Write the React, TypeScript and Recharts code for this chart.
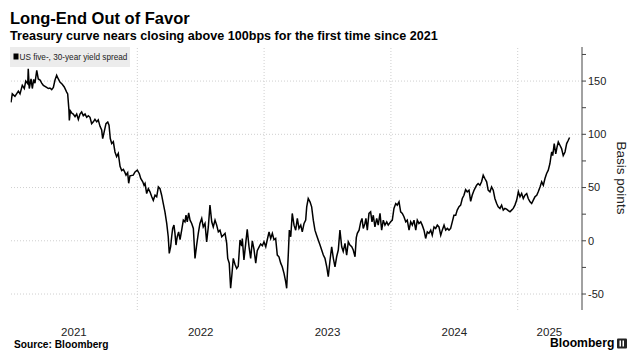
import React from 'react';
import { LineChart, Line, XAxis, YAxis, ReferenceLine } from 'recharts';

// Decimal-year dates of the sampled observations
const dateYears = [
  2021.004, 2021.014, 2021.035, 2021.062, 2021.075, 2021.093, 2021.109, 2021.12, 2021.136, 2021.14,
  2021.148, 2021.162, 2021.172, 2021.183, 2021.193, 2021.207, 2021.219, 2021.233, 2021.246, 2021.259,
  2021.272, 2021.285, 2021.298, 2021.311, 2021.325, 2021.338, 2021.351, 2021.364, 2021.377, 2021.39,
  2021.408, 2021.424, 2021.443, 2021.451, 2021.461, 2021.464, 2021.472, 2021.483, 2021.495, 2021.509,
  2021.522, 2021.535, 2021.548, 2021.561, 2021.574, 2021.588, 2021.601, 2021.614, 2021.627, 2021.64,
  2021.653, 2021.666, 2021.68, 2021.692, 2021.706, 2021.719, 2021.727, 2021.74, 2021.753, 2021.767,
  2021.777, 2021.787, 2021.798, 2021.811, 2021.824, 2021.837, 2021.85, 2021.864, 2021.877, 2021.89,
  2021.903, 2021.911, 2021.924, 2021.932, 2021.942, 2021.968, 2021.982, 2022.0, 2022.016, 2022.027,
  2022.043, 2022.053, 2022.061, 2022.074, 2022.087, 2022.1, 2022.114, 2022.126, 2022.14, 2022.153,
  2022.166, 2022.179, 2022.192, 2022.205, 2022.218, 2022.232, 2022.244, 2022.252, 2022.263, 2022.271,
  2022.279, 2022.289, 2022.297, 2022.305, 2022.315, 2022.326, 2022.337, 2022.35, 2022.363, 2022.376,
  2022.384, 2022.394, 2022.405, 2022.416, 2022.429, 2022.442, 2022.455, 2022.468, 2022.481, 2022.494,
  2022.508, 2022.52, 2022.534, 2022.547, 2022.56, 2022.573, 2022.587, 2022.599, 2022.613, 2022.626,
  2022.639, 2022.652, 2022.666, 2022.678, 2022.692, 2022.705, 2022.713, 2022.725, 2022.736, 2022.747,
  2022.757, 2022.77, 2022.784, 2022.796, 2022.81, 2022.823, 2022.828, 2022.841, 2022.855, 2022.867,
  2022.881, 2022.894, 2022.907, 2022.92, 2022.934, 2022.946, 2022.96, 2022.973, 2022.986, 2022.999,
  2023.013, 2023.025, 2023.039, 2023.052, 2023.065, 2023.078, 2023.091, 2023.104, 2023.117, 2023.131,
  2023.143, 2023.157, 2023.17, 2023.178, 2023.191, 2023.199, 2023.21, 2023.222, 2023.236, 2023.249,
  2023.262, 2023.275, 2023.289, 2023.301, 2023.315, 2023.328, 2023.336, 2023.348, 2023.362, 2023.375,
  2023.388, 2023.401, 2023.414, 2023.427, 2023.441, 2023.454, 2023.467, 2023.48, 2023.494, 2023.506,
  2023.52, 2023.533, 2023.546, 2023.559, 2023.572, 2023.585, 2023.598, 2023.612, 2023.624, 2023.638,
  2023.651, 2023.664, 2023.677, 2023.691, 2023.703, 2023.717, 2023.727, 2023.735, 2023.749, 2023.762,
  2023.772, 2023.782, 2023.795, 2023.803, 2023.814, 2023.827, 2023.84, 2023.851, 2023.861, 2023.874,
  2023.888, 2023.9, 2023.914, 2023.927, 2023.94, 2023.953, 2023.967, 2023.979, 2023.998, 2024.011,
  2024.024, 2024.038, 2024.05, 2024.064, 2024.077, 2024.09, 2024.103, 2024.117, 2024.129, 2024.143,
  2024.156, 2024.169, 2024.182, 2024.196, 2024.208, 2024.221, 2024.235, 2024.247, 2024.261, 2024.274,
  2024.287, 2024.3, 2024.314, 2024.326, 2024.34, 2024.353, 2024.366, 2024.379, 2024.393, 2024.405,
  2024.419, 2024.432, 2024.445, 2024.458, 2024.471, 2024.484, 2024.497, 2024.511, 2024.523, 2024.537,
  2024.55, 2024.563, 2024.576, 2024.589, 2024.602, 2024.616, 2024.629, 2024.641, 2024.654, 2024.662,
  2024.676, 2024.688, 2024.702, 2024.715, 2024.728, 2024.741, 2024.755, 2024.767, 2024.781, 2024.794,
  2024.807, 2024.82, 2024.834, 2024.846, 2024.86, 2024.873, 2024.886, 2024.899, 2024.912, 2024.926,
  2024.939, 2024.952, 2024.965, 2024.978, 2024.992, 2025.005, 2025.018, 2025.031, 2025.044, 2025.057,
  2025.071, 2025.083, 2025.097, 2025.11, 2025.123, 2025.136, 2025.15, 2025.162, 2025.176, 2025.189,
  2025.202, 2025.215, 2025.228, 2025.241, 2025.254, 2025.262, 2025.268, 2025.276, 2025.288, 2025.3,
  2025.31, 2025.32, 2025.333, 2025.346, 2025.359, 2025.373, 2025.386, 2025.399, 2025.409,
];

// US 5s30s spread, basis points
const spreadBps = [
  130, 138, 135.6, 140.6, 138, 146, 143, 150, 147.5, 161.6,
  143, 152, 143, 151.5, 148, 160, 152, 151, 148, 146,
  145, 144, 143, 143.5, 142, 144, 151, 155.4, 152, 149,
  147, 144.5, 139.7, 138, 122.5, 113, 122, 120, 119, 116.6,
  119, 114, 119, 121, 117.5, 119, 116, 117.5, 116, 110,
  111.7, 114, 111.7, 113.6, 107.5, 104, 96, 103, 110, 111.6,
  108.5, 96, 91.3, 93, 83.4, 79, 82, 70, 66, 67,
  64, 61.6, 64, 54, 61, 61.6, 64.7, 66.3, 63, 58.5,
  55.4, 52.2, 53.8, 44.4, 49, 46, 41.3, 38, 42.8, 41.3,
  50.6, 49, 42.8, 35, 27.2, 16.3, 3.8, -11.8, -5.6, 3.8,
  11.6, 14.7, 7, -4, 3.8, 8.4, 1, 10, 19.4, 17.8,
  24, 17.8, 26.3, 19.4, 16.3, 11.6, -16.5, -4, 7, 16.3,
  21, 13, 16.3, -1, 13, 33.5, 17.8, 13, 19.4, 14.7,
  8.4, 10, 3.8, 5.3, 7, -2.5, -16.5, -21, -44.6, -30.5,
  -16.5, -22, -26, -24, 0.7, -5, 2.2, -18, -2.5, 10.7,
  -5.6, -16.5, 0, -7.8, -21, -9.3, -6, -3, -4.6, -1,
  -5.6, 1, 8.4, 2.2, 7, 1, 2.2, -13.4, -15, -21,
  -24.4, -30.6, -38.4, -44.6, -12, 10, 3.8, 25.7, 14.7, 10,
  21, 11.6, 14.7, 8.4, 16.3, 19.4, 31.9, 39.7, 36.6, 31.9,
  19.4, 10, 5.3, 0.7, -4, -8.7, -13.4, -16.5, -24.4, -33.7,
  -18, -5.6, -16.5, -24.4, -15, -8.7, 10, -5.6, -10, -2.5,
  -13.4, -1, -4, -5.6, -8.7, -15, 3, 7, 10, 17.8,
  21, 11.6, 16.3, 21, 10, 25.7, 27.2, 17.8, 24, 13,
  21, 14.7, 25.7, 10, 19.4, 14.7, 17.8, 14.7, 17.8, 19.4,
  30.4, 35, 33.5, 36.6, 27.2, 25.7, 22.6, 17.8, 19.4, 10,
  17.8, 14.7, 19.4, 10, 19.4, 16.3, 17.8, 14.7, 10, 2.2,
  8.4, 7, 10, 5.3, 13, 11.6, 14.7, 13, 5.3, 10,
  14.7, 10, 11.6, 10, 11.6, 17.8, 24, 24, 28.8, 32,
  33.5, 39.7, 42.8, 48, 46, 47.5, 37, 42.8, 47, 49,
  52.2, 53.8, 52.2, 55.4, 61.6, 58.5, 55.4, 47.5, 46, 50.6,
  47.5, 39.7, 35, 31.9, 30.4, 33.5, 28.8, 30.4, 29.7, 28.3,
  27.2, 28.8, 30.4, 33.5, 38.2, 46, 41.3, 44.4, 39.7, 42.8,
  44.4, 39.7, 36.6, 35, 38.2, 41.3, 42.8, 46, 50.6, 55.4,
  52.2, 58.5, 63.2, 66.3, 72.6, 79, 83.4, 80, 91.3, 81.6,
  88, 92.8, 89.7, 86.6, 80, 83.4, 91.3, 94.4, 97,
];

const yearLabelPositions = [2021.5, 2022.5, 2023.5, 2024.5, 2025.25];
const yearLabels = ['2021', '2022', '2023', '2024', '2025'];
const yearBoundaries = [2022, 2023, 2024, 2025];
const yTicks = [-50, -25, 0, 25, 50, 75, 100, 125, 150, 175];
const yGridValues = [-50, 0, 50, 100, 150];

const data = dateYears.map((t, i) => ({ t, v: spreadBps[i] }));

const FONT = "'Liberation Sans', Arial, sans-serif";

const YTick = (props: any) => {
  const { x, y, payload } = props;
  if (payload.value % 50 !== 0) return <g />;
  return (
    <text x={x} y={y} dy="0.355em" textAnchor="start" fontSize={11} fill="#222" fontFamily={FONT}>
      {payload.value}
    </text>
  );
};

export default function App() {
  return (
    <div style={{ position: 'absolute', left: 0, top: 0, width: 640, height: 361, background: '#fff', overflow: 'hidden' }}>
      <LineChart
        width={640}
        height={361}
        data={data}
        margin={{ top: 47, right: 0, bottom: 0, left: 10.5 }}
      >
        {yGridValues.map((g) => (
          <ReferenceLine key={'h' + g} y={g} stroke="#cfcfcf" strokeDasharray="1 2" ifOverflow="extendDomain" />
        ))}
        {yearBoundaries.map((b) => (
          <ReferenceLine key={'v' + b} x={b} stroke="#cfcfcf" strokeDasharray="1 2" />
        ))}
        <XAxis
          dataKey="t"
          type="number"
          domain={[2021, 2025.507]}
          allowDataOverflow
          ticks={yearLabelPositions}
          tickFormatter={(v: number) => yearLabels[yearLabelPositions.indexOf(v)]}
          axisLine={false}
          tickLine={false}
          tickSize={0}
          tickMargin={17.5}
          height={51}
          interval={0}
          tick={{ fontSize: 11.5, fill: '#222', fontFamily: FONT }}
        />
        <YAxis
          orientation="right"
          width={58}
          domain={[-65, 182]}
          allowDataOverflow
          ticks={yTicks}
          interval={0}
          tickSize={4}
          tickMargin={2}
          stroke="#444"
          axisLine={{ stroke: '#444' }}
          tickLine={{ stroke: '#444' }}
          tick={<YTick />}
        />
        <Line
          type="linear"
          dataKey="v"
          stroke="#000"
          strokeWidth={1.5}
          dot={false}
          isAnimationActive={false}
        />
      </LineChart>
      <svg
        width={640}
        height={361}
        style={{ position: 'absolute', left: 0, top: 0, pointerEvents: 'none' }}
      >
        <text x={10} y={24} fontSize={16.5} fontWeight="bold" fill="#000" fontFamily={FONT}>
          Long-End Out of Favor
        </text>
        <text x={10} y={39.5} fontSize={12.6} fontWeight="bold" fill="#000" fontFamily={FONT}>
          Treasury curve nears closing above 100bps for the first time since 2021
        </text>
        <rect x={10} y={47} width={120} height={20} fill="#ececec" />
        <rect x={13.5} y={53.5} width={5} height={6} fill="#000" />
        <text x={19.5} y={60} fontSize={8.2} fill="#222" fontFamily={FONT}>
          US five-, 30-year yield spread
        </text>
        <text
          x={622}
          y={178}
          dy="0.35em"
          textAnchor="middle"
          fontSize={13.5}
          fill="#222"
          fontFamily={FONT}
          transform="rotate(90 622 178)"
        >
          Basis points
        </text>
        <text x={14} y={348} fontSize={10.2} fontWeight="bold" fill="#000" fontFamily={FONT}>
          Source: Bloomberg
        </text>
        <text x={550} y={347} fontSize={12.2} fontWeight="bold" fill="#000" fontFamily={FONT}>
          Bloomberg
        </text>
        <rect x={617} y={338.5} width={10} height={10} rx={1} fill="#222" />
        <rect x={619.5} y={340.5} width={1.5} height={6} fill="#fff" />
        <rect x={622.5} y={340.5} width={1.5} height={6} fill="#fff" />
      </svg>
    </div>
  );
}
